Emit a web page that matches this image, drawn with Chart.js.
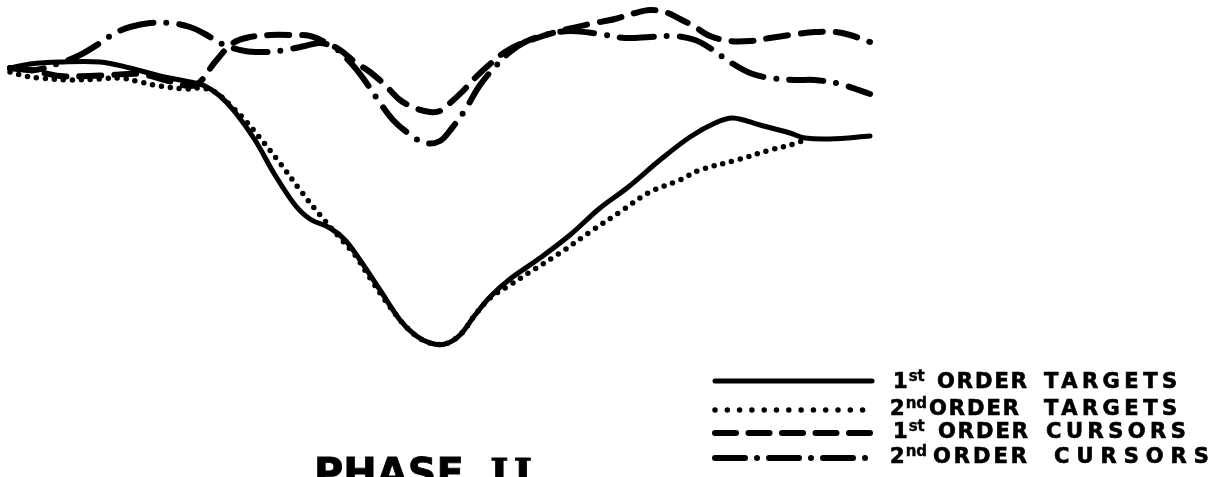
<!DOCTYPE html>
<html>
<head>
<meta charset="utf-8">
<script src="https://cdn.jsdelivr.net/npm/chart.js@4/dist/chart.umd.min.js"></script>
<style>
  html, body { margin: 0; padding: 0; background: #fff; width: 1222px; height: 477px; overflow: hidden; }
  #wrap { position: relative; width: 1222px; height: 477px; }
  canvas { position: absolute; left: 0; top: 0; }
  .w { position: absolute; font-family: "DejaVu Sans", sans-serif; font-weight: bold; font-size: 21px; line-height: 22px; color: #000; white-space: nowrap; -webkit-text-stroke: 0.7px #000; }
  .o { letter-spacing: 2px; }
  .t { letter-spacing: 4.5px; }
  .w sup { font-size: 15px; letter-spacing: 0; vertical-align: 0; position: relative; top: -7px; margin-left: 1px; -webkit-text-stroke: 0.4px #000; }
  #phase { position: absolute; left: 314px; top: 453px; font-family: "DejaVu Sans", sans-serif; font-weight: bold; font-size: 40px; line-height: 40px; color: #000; white-space: nowrap; -webkit-text-stroke: 0.8px #000; }
  #phase .rn { font-family: "DejaVu Serif", serif; margin-left: 26px; letter-spacing: 5px; }
</style>
</head>
<body>
<div id="wrap">
  <canvas id="c" width="1222" height="477"></canvas>
  <!-- legend row 1 -->
  <span class="w" style="left:893px;top:370px">1<sup>st</sup></span>
  <span class="w o" style="left:937px;top:370px">ORDER</span>
  <span class="w t" style="left:1044px;top:370px">TARGETS</span>
  <!-- legend row 2 -->
  <span class="w" style="left:890px;top:397px">2<sup>nd</sup></span>
  <span class="w o" style="left:929px;top:397px">ORDER</span>
  <span class="w t" style="left:1044px;top:397px">TARGETS</span>
  <!-- legend row 3 -->
  <span class="w" style="left:893px;top:420px">1<sup>st</sup></span>
  <span class="w o" style="left:938px;top:420px">ORDER</span>
  <span class="w t" style="left:1046px;top:420px">CURSORS</span>
  <!-- legend row 4 -->
  <span class="w" style="left:890px;top:445px">2<sup>nd</sup></span>
  <span class="w" style="left:933px;top:445px;letter-spacing:3px">ORDER</span>
  <span class="w" style="left:1054px;top:445px;letter-spacing:7px">CURSORS</span>
  <div id="phase">PHASE<span class="rn">II</span></div>
</div>
<script>
// Series names
const seriesNames = ["1st ORDER TARGETS", "2nd ORDER TARGETS", "1st ORDER CURSORS", "2nd ORDER CURSORS"];

// 1st order targets (solid)
const targets1X = [0,2,5,9,12,15,18,19.5,21,22.5,24.5,26.5,28.5,30,32,33.5,35,37,39,40.5,42,43.5,45,46.5,48,50,53,56,59,61.7,65,68,70.5,72.3,75,78,79.5,82,86];
const targets1Y = [83,84,84.5,84.5,83,81,79.5,78.5,76,72,65,56.25,48.75,45.25,43,40,35,27.5,20,16.25,14.25,14,16.25,21.25,25.75,30.25,35.5,41.25,48,53,60,65.75,69.25,70.5,68.75,66.75,65.5,65.25,66];

// 2nd order targets (dotted)
const targets2X = [0,1.5,3,6,9,11,13,15,17.5,19,20.5,22,23.5,25,27,29,31,33,34.5,36,37.5,39,40.5,42,43.5,45,46.5,48,50,52,55,58,61,64,67,69,72.7,76,78.7,79.5];
const targets2Y = [82,81,80.5,80,80.25,80.5,79.5,78.5,77.75,78,77,73.75,70,65.5,59.25,52.5,46.25,40.5,36.25,30.5,25,20,16.25,14.25,14,16.25,21.25,25.5,28.75,32,36.75,42,47,52,55,57.5,60,62.5,64.25,65.25];

// 1st order cursors (dashed)
const cursors1X = [0,2,5,8,10,13,15.5,18,19,20.5,22.3,24,26,28,30,31.5,33,34.5,36,37.5,39,40.5,42,43,44,45.2,46.5,48,49.5,51,53,55,58,60.5,62.5,64,65.5,67,68.5,70,72,74,76,78,80.5,82.5,84,86];
const cursors1Y = [83,82.5,81,81,81.25,81.5,80,78.5,79.5,84.5,89.25,90.75,91.25,91.25,91,89.5,87.5,84.5,82,78.75,75,73,72,72.25,74.25,77,80.5,84,87,89,90.75,92.25,94,95.25,96.75,97.5,97,95.25,93.25,91,89.75,89.75,90.5,91.25,92,92,91.25,89.5];

// 2nd order cursors (dash-dot)
const cursors2X = [0,2.5,5,7,9,10.5,12,14,16,18,19.5,21.2,23.5,25.5,27.5,29.5,31,32.5,34,35.3,36.8,38.3,39.8,41.5,43,44.2,45.5,47,48.5,50,51.5,53.5,56,59,61.5,64,66.5,68.5,70,72,74,76,78.5,80.5,83,86];
const cursors2Y = [83,82.5,84.25,86.25,89.25,91.75,93.25,94.25,94.25,93.25,91.5,89,87.25,87,87.5,88.5,89.25,88,84.5,80.5,75,70,66.75,64.25,64.75,68,72.5,78.75,83.25,87,89.5,91.25,92.25,91.5,90.5,90.75,91,90,88,84.5,81.75,80.5,80,80,79,76.5];

const pts = (xs, ys) => xs.map((x, i) => ({ x: x, y: ys[i] }));

const styles = [
  { borderDash: [], borderWidth: 5, legendDash: [] },
  { borderDash: [0, 9], borderWidth: 5.5, legendDash: [0, 12.3] },
  { borderDash: [22, 13], borderWidth: 6, legendDash: [21, 12.5] },
  { borderDash: [34, 13, 0, 13], borderWidth: 6, legendDash: [30, 12, 0, 12] }
];
const legendRows = [381, 410, 433, 458];

const legendPlugin = {
  id: 'sideLegend',
  afterDraw(chart) {
    const ctx = chart.ctx;
    ctx.save();
    ctx.strokeStyle = '#000';
    ctx.lineCap = 'round';
    styles.forEach((s, i) => {
      ctx.lineWidth = s.borderWidth;
      ctx.setLineDash(s.legendDash);
      ctx.beginPath();
      ctx.moveTo(715, legendRows[i]);
      ctx.lineTo(872, legendRows[i]);
      ctx.stroke();
    });
    ctx.restore();
  }
};

const data = [
  pts(targets1X, targets1Y),
  pts(targets2X, targets2Y),
  pts(cursors1X, cursors1Y),
  pts(cursors2X, cursors2Y)
];

new Chart(document.getElementById('c'), {
  type: 'line',
  data: {
    datasets: data.map((d, i) => ({
      label: seriesNames[i],
      data: d,
      borderColor: '#000',
      backgroundColor: '#000',
      borderWidth: styles[i].borderWidth,
      borderDash: styles[i].borderDash,
      borderCapStyle: 'round',
      borderJoinStyle: 'round',
      pointRadius: 0,
      tension: 0.35,
      fill: false
    }))
  },
  options: {
    responsive: false,
    animation: false,
    devicePixelRatio: 1,
    layout: { padding: 0 },
    plugins: { legend: { display: false }, tooltip: { enabled: false }, title: { display: false } },
    scales: {
      x: { type: 'linear', display: false, min: -1, max: 121.2 },
      y: { type: 'linear', display: false, min: -19.25, max: 100 }
    }
  },
  plugins: [legendPlugin]
});
</script>
</body>
</html>
